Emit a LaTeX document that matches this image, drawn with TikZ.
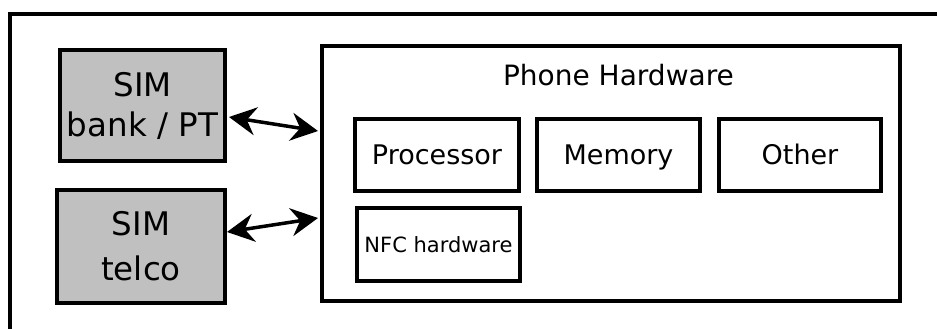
\documentclass[tikz,border=0pt]{standalone}
\usepackage{fontspec}
\setmainfont{DejaVu Sans}
\usetikzlibrary{arrows.meta,calc}
\definecolor{simgray}{RGB}{192,192,192}
\tikzset{
  box/.style={draw=black, line width=3.7pt, rectangle, inner sep=0pt, align=center},
  simbox/.style={box, fill=simgray},
  partbox/.style={box, fill=white, font=\fontsize{27}{32}\selectfont,
                  text height=19.7pt, text depth=0pt},
  link/.style={line width=3.5pt, {Stealth[length=27pt,width=28pt,inset=9pt]}-{Stealth[length=27pt,width=28pt,inset=9pt]}}
}
\begin{document}
\begin{tikzpicture}[x=1pt, y=-1pt]
  \useasboundingbox (0,0) rectangle (937,329);
  \clip (0,0) rectangle (937,329);
  % surrounding frame, running past the right and bottom edges
  \draw[line width=4pt] (10,340) -- (10,14) -- (950,14);

  % SIM cards
  \node[simbox, minimum width=165.3pt, minimum height=111.3pt,
        font=\fontsize{32.5}{40}\selectfont] (simbank) at (142.5,105.5) {SIM\\bank / PT};
  \node[simbox, minimum width=168.3pt, minimum height=113.3pt,
        font=\fontsize{32.5}{45}\selectfont] (simtelco) at (141,246.5) {SIM\\telco};

  % phone hardware with its parts
  \node[box, minimum width=578.3pt, minimum height=255.3pt] (phone) at (611,173.5) {};
  \node[anchor=base, font=\fontsize{28}{34}\selectfont] (phonetitle) at (618.5,85) {Phone Hardware};
  \node[partbox, minimum width=164.3pt, minimum height=72.3pt] (cpu) at (437,155) {Processor};
  \node[partbox, minimum width=163.3pt, minimum height=72.3pt] (mem) at (618.5,155) {Memory};
  \node[partbox, minimum width=162.3pt, minimum height=72.3pt] (other) at (800,155) {Other};
  \node[box, fill=white, minimum width=163.3pt, minimum height=73.3pt,
        font=\fontsize{21}{25}\selectfont] (nfc) at (438.5,244.5) {NFC hardware};

  % links between the SIMs and the phone
  \draw[link] ($(simbank.east)+(2,11.5)$) -- ($(phone.west)+(-2,-42.5)$);
  \draw[link] ($(simtelco.east)+(0,-14.5)$) -- ($(phone.west)+(-2,44.5)$);
\end{tikzpicture}
\end{document}
